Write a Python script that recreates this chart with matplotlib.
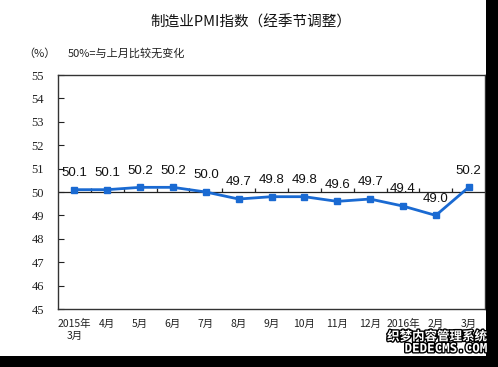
import matplotlib.pyplot as plt
import matplotlib as mpl
import matplotlib.patheffects as pe
from matplotlib.patches import Rectangle

mpl.rcParams["font.family"] = ["Noto Sans CJK SC", "DejaVu Sans"]

months = ["2015年\n3月", "4月", "5月", "6月", "7月", "8月", "9月",
          "10月", "11月", "12月", "2016年", "2月", "3月"]
pmi = [50.1, 50.1, 50.2, 50.2, 50.0, 49.7, 49.8, 49.8, 49.6, 49.7, 49.4, 49.0, 50.2]
yticks = [45, 46, 47, 48, 49, 50, 51, 52, 53, 54, 55]

line_color = "#1a6ad2"

fig = plt.figure(figsize=(4.98, 3.67), dpi=100)
ax = fig.add_axes([0.1165, 0.158, 0.8575, 0.6376])

x = list(range(len(pmi)))
ax.plot(x, pmi, color=line_color, linewidth=2.0, marker="s", markersize=4.5,
        markerfacecolor=line_color, markeredgecolor=line_color, zorder=3)

for xi, v in zip(x, pmi):
    ax.annotate(f"{v:.1f}", (xi, v), xytext=(0, 12), textcoords="offset points",
                ha="center", va="center", fontsize=9.5, family="Liberation Sans",
                color="#111111")

# 50 reference line with small upward ticks between months
ax.axhline(50, color="#222222", linewidth=0.9, zorder=2)
bounds = [i - 0.5 for i in range(1, len(pmi))]
ax.vlines(bounds, 50, 50.17, color="#222222", linewidth=0.9, zorder=2)

ax.set_xlim(-0.5, len(pmi) - 0.5)
ax.set_ylim(45, 55)
ax.set_yticks(yticks)
ax.set_yticklabels([str(t) for t in yticks], family="Liberation Serif", fontsize=9)
ax.tick_params(axis="y", direction="in", length=4, width=0.8, pad=10, colors="#222222")
ax.set_xticks(x)
ax.set_xticklabels(months, fontsize=7.5, linespacing=1.3)
ax.tick_params(axis="x", length=0, pad=7, colors="#222222")
for s in ax.spines.values():
    s.set_color("#333333")
    s.set_linewidth(1.0)

fig.text(0.503, 0.938, "制造业PMI指数（经季节调整）", ha="center", va="center",
         fontsize=10.5, color="#111111")
fig.text(0.08, 0.855, "（%）", ha="center", va="center", fontsize=8, color="#222222")
fig.text(0.135, 0.855, "50%=与上月比较无变化", ha="left", va="center",
         fontsize=8, color="#222222")

# black frame strips at right and bottom of the original picture
fig.patches.append(Rectangle((0.9755, 0), 0.0245, 1, transform=fig.transFigure,
                             facecolor="black", edgecolor="none"))
fig.patches.append(Rectangle((0, 0), 1, 0.03, transform=fig.transFigure,
                             facecolor="black", edgecolor="none"))

# watermark
halo = [pe.withStroke(linewidth=2, foreground="black")]
fig.text(0.978, 0.082, "织梦内容管理系统", ha="right", va="center", fontsize=9,
         fontweight="bold", color="white", path_effects=halo)
fig.text(0.978, 0.05, "DEDECMS.COM", ha="right", va="center", fontsize=9,
         fontweight="bold", family="DejaVu Sans Mono", color="white", path_effects=halo)

fig.savefig("out.png", dpi=100)
